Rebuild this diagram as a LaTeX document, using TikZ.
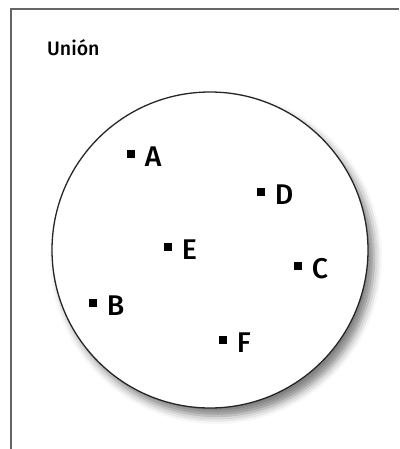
\documentclass[tikz,border=0pt]{standalone}
\usepackage{fontspec}
\setmainfont{Fira Sans}[UprightFont=* Medium]
\usetikzlibrary{positioning, shadows.blur}

\begin{document}
\begin{tikzpicture}[x=1pt, y=-1pt,
    elem/.style={rectangle, fill=black, minimum size=7.5pt, inner sep=0pt},
    every label/.style={font=\fontsize{28.5}{30}\selectfont, label distance=6.5pt, yshift=-3pt}]
    \useasboundingbox (0,0) rectangle (399,449);
    \draw[black!60, line width=1.3pt] (11,449) -- (11,9) -- (399,9);
    \node (titulo) [anchor=west, inner sep=0pt, font=\fontsize{19.5}{21}\selectfont] at (47,48) {Unión};
    \node (conjunto) [circle, draw=black!85, line width=1.3pt, fill=white, minimum size=316pt,
        blur shadow={shadow xshift=6pt, shadow yshift=-8pt, shadow blur radius=8pt, shadow opacity=50}] at (210,250) {};
    \node (a) [elem, label=right:A] at (131,154) {};
    \node (d) [elem, label=right:D] at (261,192) {};
    \node (e) [elem, label=right:E] at (168,247) {};
    \node (c) [elem, label=right:C] at (298,266) {};
    \node (b) [elem, label=right:B] at (93,303) {};
    \node (f) [elem, label=right:F] at (223,340) {};
\end{tikzpicture}
\end{document}
